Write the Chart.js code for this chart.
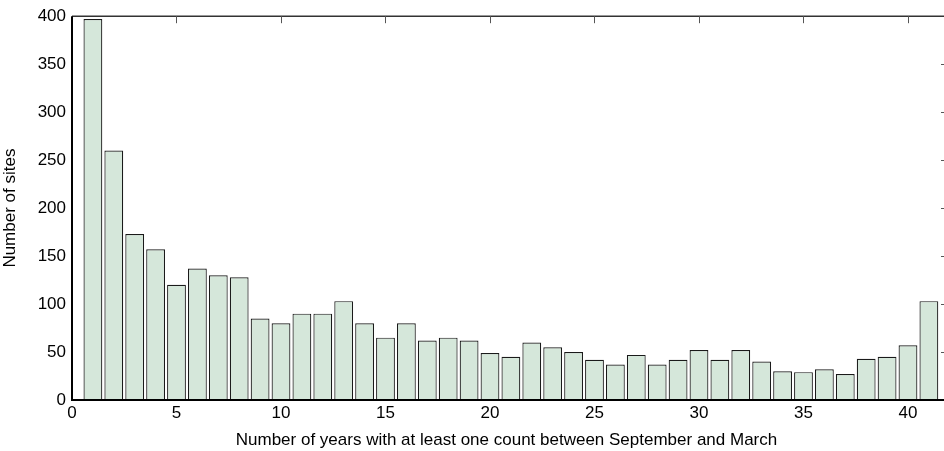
<!DOCTYPE html>
<html>
<head>
<meta charset="utf-8">
<script src="https://cdn.jsdelivr.net/npm/chart.js@4"></script>
<style>
  html, body { margin: 0; padding: 0; background: #fff; }
  #chart { display: block; }
</style>
</head>
<body>
<canvas id="chart" width="944" height="451"></canvas>
<script>
// Number of years (1..41) and number of sites
const years = [1, 2, 3, 4, 5, 6, 7, 8, 9, 10, 11, 12, 13, 14, 15, 16, 17, 18, 19, 20,
               21, 22, 23, 24, 25, 26, 27, 28, 29, 30, 31, 32, 33, 34, 35, 36, 37, 38, 39, 40, 41];
const sites = [397, 260, 173, 157, 120, 137, 130, 128, 85, 80, 90, 90, 103, 80, 65, 80, 62, 65, 62, 49,
               45, 60, 55, 50, 42, 37, 47, 37, 42, 52, 42, 52, 40, 30, 29, 32, 27, 43, 45, 57, 103];
const xTicks = [0, 5, 10, 15, 20, 25, 30, 35, 40];
const yTicks = [0, 50, 100, 150, 200, 250, 300, 350, 400];

const FONT = "'Liberation Sans', Arial, sans-serif";

// Draws the frame: top line, inward tick marks on top and right
const framePlugin = {
    id: 'frame',
    afterDatasetsDraw(chart) {
        const { ctx, chartArea, scales } = chart;
        const { left, right, top, bottom } = chartArea;
        ctx.save();
        // top border
        ctx.strokeStyle = '#333';
        ctx.lineWidth = 1.5;
        ctx.beginPath();
        ctx.moveTo(left, top);
        ctx.lineTo(944, top);
        ctx.stroke();
        // top ticks
        ctx.strokeStyle = '#555';
        ctx.lineWidth = 1;
        xTicks.forEach(v => {
            if (v === 0) return;
            const x = Math.round(scales.x.getPixelForValue(v)) + 0.5;
            ctx.beginPath();
            ctx.moveTo(x, top);
            ctx.lineTo(x, top + 7);
            ctx.stroke();
        });
        // right ticks
        yTicks.forEach(v => {
            if (v === 0 || v === 400) return;
            const y = Math.round(scales.y.getPixelForValue(v)) + 0.5;
            ctx.beginPath();
            ctx.moveTo(941, y);
            ctx.lineTo(944, y);
            ctx.stroke();
        });
        // left and bottom axis lines
        ctx.strokeStyle = '#000';
        ctx.lineWidth = 2;
        ctx.beginPath();
        ctx.moveTo(left, top);
        ctx.lineTo(left, bottom);
        ctx.lineTo(944, bottom);
        ctx.stroke();
        ctx.restore();
    }
};

const points = years.map((x, i) => ({ x: x, y: sites[i] }));

new Chart(document.getElementById('chart'), {
    type: 'bar',
    data: {
        datasets: [{
            data: points,
            backgroundColor: '#d5e7da',
            borderColor: '#1a1a1a',
            borderWidth: 1.2,
            barPercentage: 0.9,
            categoryPercentage: 1.0
        }]
    },
    options: {
        responsive: false,
        animation: false,
        devicePixelRatio: 1,
        layout: { padding: { top: 15, right: 3, left: 0, bottom: 0 } },
        plugins: {
            legend: { display: false },
            tooltip: { enabled: false }
        },
        scales: {
            x: {
                type: 'linear',
                offset: false,
                min: 0,
                max: 41.58,
                grid: { display: false, drawTicks: false, offset: false },
                border: { display: false },
                afterBuildTicks: (scale) => { scale.ticks = xTicks.map(v => ({ value: v })); },
                afterFit: (scale) => { scale.height = 51; },
                ticks: {
                    color: '#000',
                    padding: 3,
                    maxRotation: 0,
                    autoSkip: false,
                    font: { family: FONT, size: 17 }
                },
                title: {
                    display: true,
                    text: 'Number of years with at least one count between September and March',
                    color: '#000',
                    padding: { top: 1, bottom: 0 },
                    font: { family: FONT, size: 17 }
                }
            },
            y: {
                min: 0,
                max: 400,
                grid: { display: false, drawTicks: false },
                border: { display: false },
                afterBuildTicks: (scale) => { scale.ticks = yTicks.map(v => ({ value: v })); },
                afterFit: (scale) => { scale.width = 72; },
                ticks: {
                    color: '#000',
                    padding: 6,
                    autoSkip: false,
                    font: { family: FONT, size: 17 }
                },
                title: {
                    display: true,
                    text: 'Number of sites',
                    color: '#000',
                    padding: { top: 0, bottom: 0 },
                    font: { family: FONT, size: 17 }
                }
            }
        }
    },
    plugins: [framePlugin]
});
</script>
</body>
</html>
